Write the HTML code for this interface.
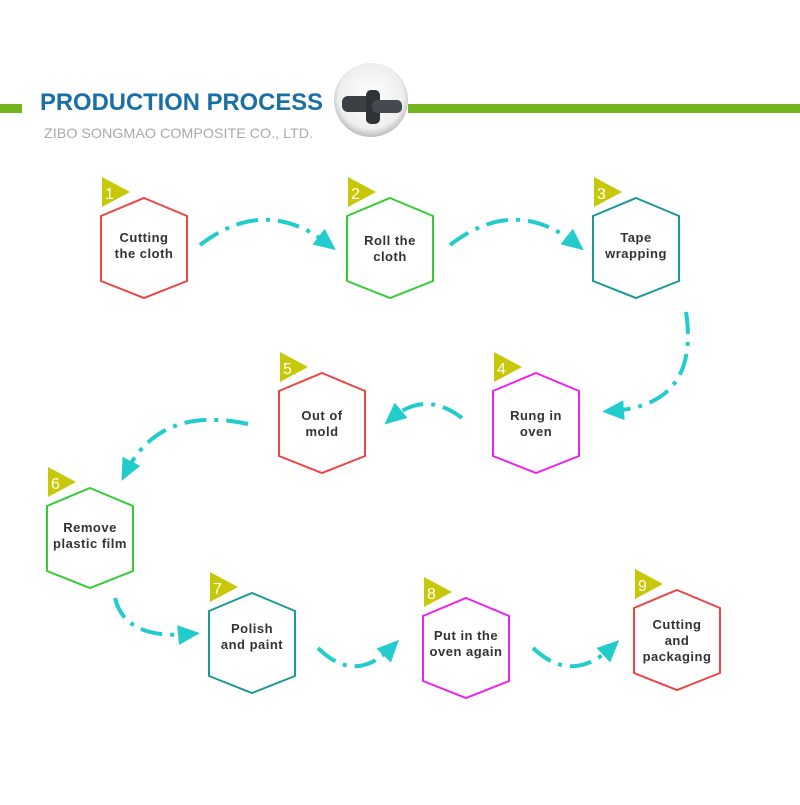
<!DOCTYPE html>
<html><head><meta charset="utf-8"><style>
body{margin:0;background:#fff;width:800px;height:800px;overflow:hidden;font-family:"Liberation Sans",sans-serif}
</style></head><body>
<svg width="800" height="800" viewBox="0 0 800 800" xmlns="http://www.w3.org/2000/svg">
<defs>
<marker id="ah" markerWidth="6" markerHeight="6" refX="3" refY="3" orient="auto" markerUnits="strokeWidth">
<path d="M0,0.5 L5.5,3 L0,5.5 z" fill="#22cccc"/></marker>
<radialGradient id="cg" cx="50%" cy="45%" r="55%"><stop offset="0" stop-color="#fff"/><stop offset="0.8" stop-color="#eee"/><stop offset="1" stop-color="#bbb"/></radialGradient>
</defs>
<rect x="0" y="104" width="22" height="9" fill="#72b51e"/>
<rect x="408" y="104" width="392" height="9" fill="#72b51e"/>
<text x="40" y="110" font-size="24" font-weight="bold" fill="#1a6fa3" textLength="283" lengthAdjust="spacingAndGlyphs">PRODUCTION PROCESS</text>
<text x="44" y="138" font-size="14" fill="#aaa" textLength="269" lengthAdjust="spacingAndGlyphs">ZIBO SONGMAO COMPOSITE CO., LTD.</text>
<circle cx="371" cy="100" r="37" fill="url(#cg)"/>
<rect x="342" y="96" width="32" height="16" rx="6" fill="#3a3f44"/>
<rect x="366" y="90" width="14" height="34" rx="5" fill="#2e3338"/>
<rect x="372" y="100" width="30" height="13" rx="5" fill="#444a50"/>

<g fill="none" stroke="#22cccc" stroke-width="4" stroke-dasharray="22,8,4,8">
<path d="M200,245 Q265,195 328,244" marker-end="url(#ah)"/>
<path d="M450,245 Q515,195 576,244" marker-end="url(#ah)"/>
<path d="M686,312 Q700,405 612,411" marker-end="url(#ah)"/>
<path d="M462,418 Q425,390 392,418" marker-end="url(#ah)"/>
<path d="M248,424 Q160,405 126,472" marker-end="url(#ah)"/>
<path d="M115,598 Q125,640 190,634" marker-end="url(#ah)"/>
<path d="M318,648 Q355,685 392,647" marker-end="url(#ah)"/>
<path d="M533,648 Q572,685 612,647" marker-end="url(#ah)"/>
</g>

<g font-size="13" font-weight="bold" fill="#333" text-anchor="middle" stroke-width="2" letter-spacing="0.5">
<g transform="translate(144,248)"><polygon points="0,-50 43,-32 43,33 0,50 -43,33 -43,-32" fill="none" stroke="#ee4444"/><polygon points="-42,-71 -14,-56 -42,-41" fill="#c8c80a" stroke="none"/><text x="-39" y="-49" fill="#fff" font-weight="normal" font-size="16" text-anchor="start">1</text><text y="-6">Cutting</text><text y="10">the cloth</text></g>
<g transform="translate(390,248)"><polygon points="0,-50 43,-32 43,33 0,50 -43,33 -43,-32" fill="none" stroke="#33cc33"/><polygon points="-42,-71 -14,-56 -42,-41" fill="#c8c80a" stroke="none"/><text x="-39" y="-49" fill="#fff" font-weight="normal" font-size="16" text-anchor="start">2</text><text y="-3">Roll the</text><text y="13">cloth</text></g>
<g transform="translate(636,248)"><polygon points="0,-50 43,-32 43,33 0,50 -43,33 -43,-32" fill="none" stroke="#1a9999"/><polygon points="-42,-71 -14,-56 -42,-41" fill="#c8c80a" stroke="none"/><text x="-39" y="-49" fill="#fff" font-weight="normal" font-size="16" text-anchor="start">3</text><text y="-6">Tape</text><text y="10">wrapping</text></g>
<g transform="translate(536,423)"><polygon points="0,-50 43,-32 43,33 0,50 -43,33 -43,-32" fill="none" stroke="#ee22ee"/><polygon points="-42,-71 -14,-56 -42,-41" fill="#c8c80a" stroke="none"/><text x="-39" y="-49" fill="#fff" font-weight="normal" font-size="16" text-anchor="start">4</text><text y="-3">Rung in</text><text y="13">oven</text></g>
<g transform="translate(322,423)"><polygon points="0,-50 43,-32 43,33 0,50 -43,33 -43,-32" fill="none" stroke="#ee4444"/><polygon points="-42,-71 -14,-56 -42,-41" fill="#c8c80a" stroke="none"/><text x="-39" y="-49" fill="#fff" font-weight="normal" font-size="16" text-anchor="start">5</text><text y="-3">Out of</text><text y="13">mold</text></g>
<g transform="translate(90,538)"><polygon points="0,-50 43,-32 43,33 0,50 -43,33 -43,-32" fill="none" stroke="#33cc33"/><polygon points="-42,-71 -14,-56 -42,-41" fill="#c8c80a" stroke="none"/><text x="-39" y="-49" fill="#fff" font-weight="normal" font-size="16" text-anchor="start">6</text><text y="-6">Remove</text><text y="10">plastic film</text></g>
<g transform="translate(252,643)"><polygon points="0,-50 43,-32 43,33 0,50 -43,33 -43,-32" fill="none" stroke="#1a9999"/><polygon points="-42,-71 -14,-56 -42,-41" fill="#c8c80a" stroke="none"/><text x="-39" y="-49" fill="#fff" font-weight="normal" font-size="16" text-anchor="start">7</text><text y="-10">Polish</text><text y="6">and paint</text></g>
<g transform="translate(466,648)"><polygon points="0,-50 43,-32 43,33 0,50 -43,33 -43,-32" fill="none" stroke="#ee22ee"/><polygon points="-42,-71 -14,-56 -42,-41" fill="#c8c80a" stroke="none"/><text x="-39" y="-49" fill="#fff" font-weight="normal" font-size="16" text-anchor="start">8</text><text y="-8">Put in the</text><text y="8">oven again</text></g>
<g transform="translate(677,640)"><polygon points="0,-50 43,-32 43,33 0,50 -43,33 -43,-32" fill="none" stroke="#ee4444"/><polygon points="-42,-71 -14,-56 -42,-41" fill="#c8c80a" stroke="none"/><text x="-39" y="-49" fill="#fff" font-weight="normal" font-size="16" text-anchor="start">9</text><text y="-11">Cutting</text><text y="5">and</text><text y="21">packaging</text></g>
</g>
</svg>
</body></html>
